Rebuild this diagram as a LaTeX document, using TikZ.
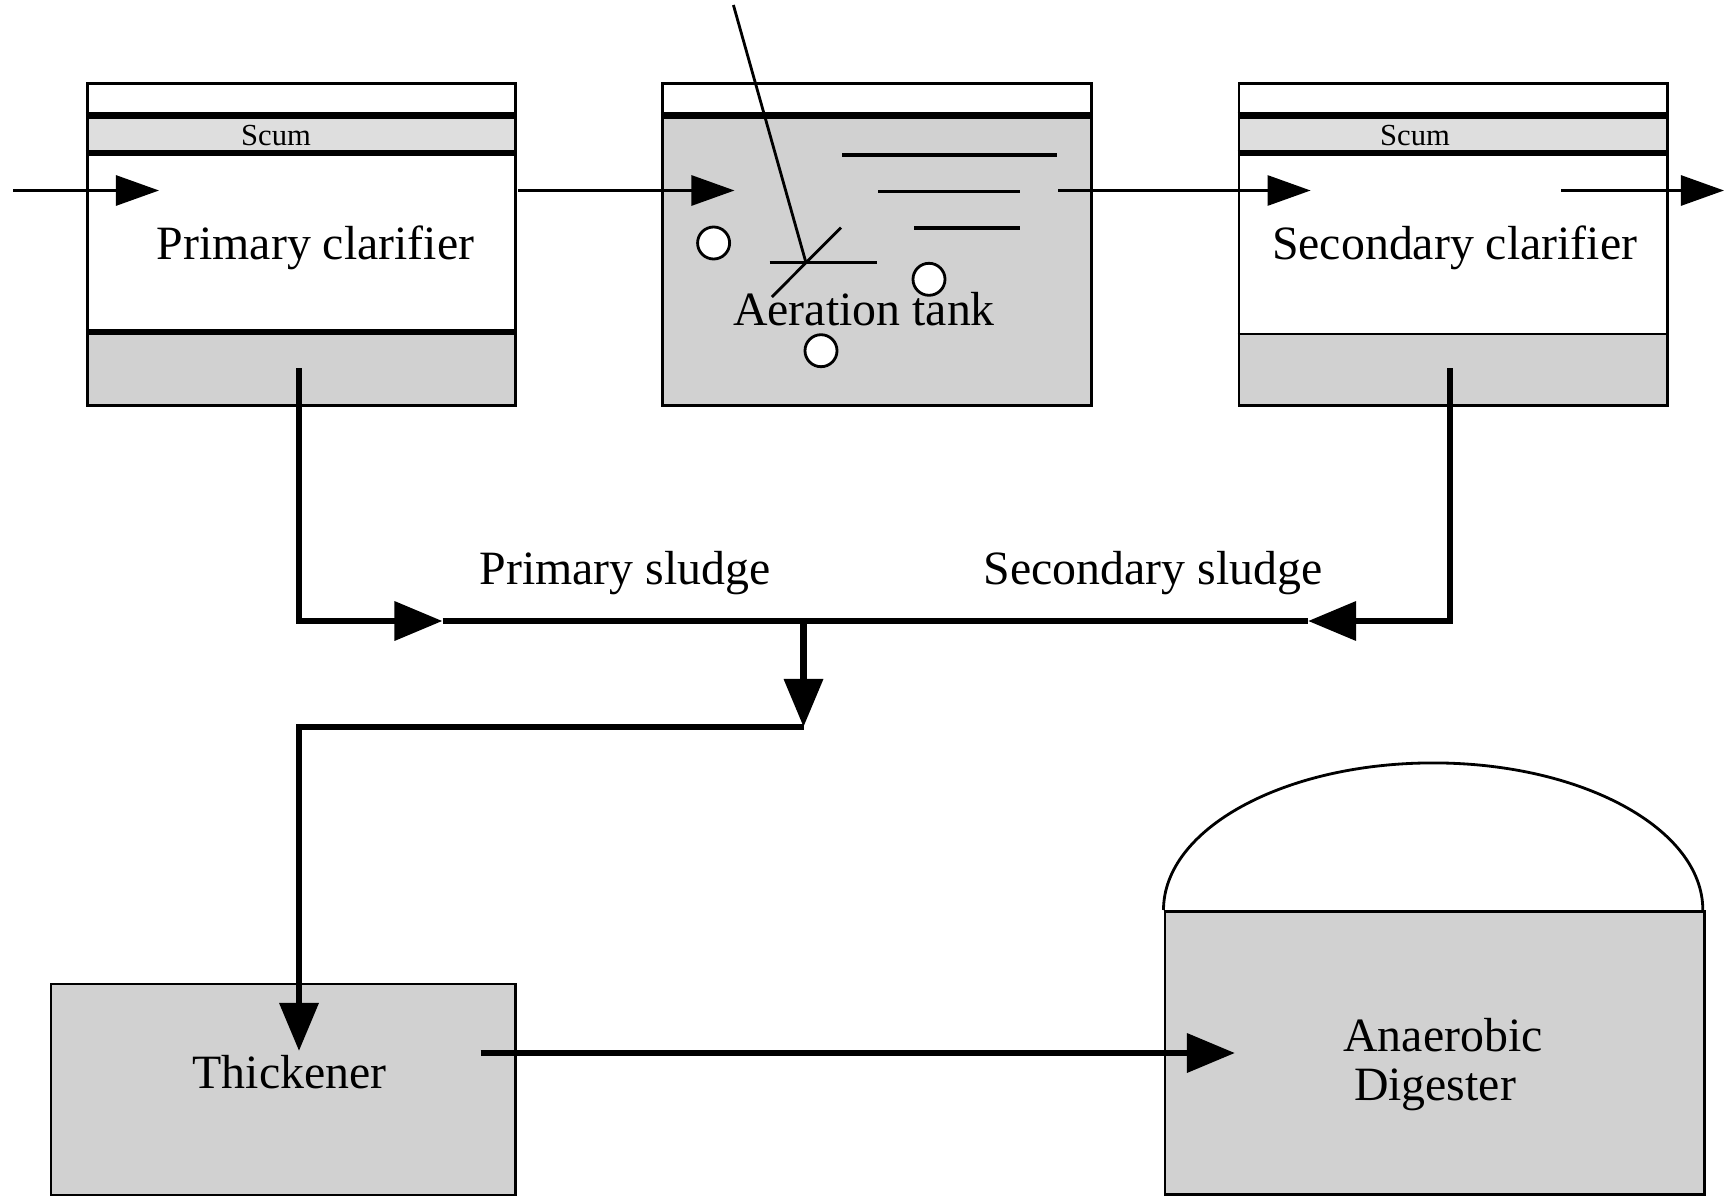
\documentclass[tikz,border=0pt]{standalone}
\usepackage{fontspec}
\setmainfont{Liberation Serif}
\usetikzlibrary{arrows.meta}
\definecolor{sludgec}{gray}{0.82}
\definecolor{scumc}{gray}{0.87}
\tikzset{
  tankbox/.style={draw=black, line width=0.8pt, inner sep=0pt, anchor=north west},
  bandline/.style={line width=1.8pt},
  thinline/.style={line width=0.8pt},
  thinflow/.style={line width=0.8pt, -{Triangle[length=0.43cm,width=0.30cm]}},
  pipeflow/.style={line width=1.9pt, -{Triangle[length=0.48cm,width=0.38cm]}},
  pipe/.style={line width=1.9pt},
  lbl/.style={font=\fontsize{13.6}{13.9}\selectfont, inner sep=0pt, anchor=base},
  scumlbl/.style={font=\fontsize{8.7}{9}\selectfont, inner sep=0pt},
  bubble/.style={draw, fill=white, line width=0.8pt},
  weir/.style={line width=1.1pt},
}
\begin{document}
\begin{tikzpicture}[x=0.01cm,y=-0.01cm]
\useasboundingbox (0,0) rectangle (1724,1197);

% ---------- Primary clarifier ----------
\fill[scumc] (85.8,115.4) rectangle (513.5,152.8);
\fill[sludgec] (85.8,332) rectangle (513.5,403.5);
\draw[bandline] (85.8,115.4) -- (513.5,115.4);
\draw[bandline] (85.8,152.8) -- (513.5,152.8);
\draw[bandline] (85.8,332) -- (513.5,332);
\node[tankbox, minimum width=4.277cm, minimum height=3.21cm] (pc) at (85.8,82.5) {};
\node[scumlbl] (pcscum) at (276,135.5) {Scum};
\node[lbl] (pclabel) at (315.5,260) {Primary clarifier};

% ---------- Aeration tank ----------
\fill[sludgec] (660.8,115.4) rectangle (1089.6,403.5);
\draw[bandline] (660.8,115.4) -- (1089.6,115.4);
\node[tankbox, minimum width=4.288cm, minimum height=3.21cm] (at) at (660.8,82.5) {};
\draw[weir] (842,155) -- (1057,155);
\draw[weir] (878,191.5) -- (1020,191.5);
\draw[weir] (914,227.6) -- (1020,227.6);
% mixer
\draw[thinline] (733.4,5) -- (806,262.8);
\draw[thinline] (769.6,262.8) -- (877.4,262.8);
\draw[thinline] (771.8,297) -- (841,227.6);
% bubbles
\draw[bubble] (713.6,243) circle[radius=0.16cm];
\draw[bubble] (929,279.3) circle[radius=0.16cm];
\draw[bubble] (821,350.7) circle[radius=0.16cm];
\node[lbl] (atlabel) at (864,325) {Aeration tank};

% ---------- Secondary clarifier ----------
\fill[scumc] (1237.5,115.4) rectangle (1665.5,152.8);
\fill[sludgec] (1237.5,334) rectangle (1665.5,403.5);
\draw[bandline] (1237.5,115.4) -- (1665.5,115.4);
\draw[bandline] (1237.5,152.8) -- (1665.5,152.8);
\draw[thinline] (1237.5,334) -- (1665.5,334);
\node[tankbox, minimum width=4.28cm, minimum height=3.21cm] (sc) at (1237.5,82.5) {};
\node[scumlbl] (scscum) at (1415,135.5) {Scum};
\node[lbl] (sclabel) at (1454.7,260) {Secondary clarifier};

% ---------- Thickener ----------
\node[tankbox, fill=sludgec, minimum width=4.645cm, minimum height=2.11cm] (th) at (49.5,982.5) {};
\node[lbl] (thlabel) at (289.5,1088) {Thickener};

% ---------- Anaerobic digester ----------
\draw[thinline] (1163.5,910) arc[start angle=180, end angle=0, x radius=2.695cm, y radius=1.47cm];
\node[tankbox, fill=sludgec, minimum width=5.39cm, minimum height=2.83cm] (dg) at (1163.5,910) {};
\node[font=\fontsize{13.6}{13.9}\selectfont, inner sep=0pt, align=center] (dglabel) at (1443,1065) {Anaerobic\\Digester\kern0.16cm};

% ---------- main flow (thin) ----------
\coordinate (in0) at (13,190.5);
\coordinate (in1) at (159,190.5);
\coordinate (pcout) at (518,190.5);
\coordinate (atin) at (734.5,190.5);
\coordinate (atout) at (1058,190.5);
\coordinate (scin) at (1310.6,190.5);
\coordinate (scout) at (1561,190.5);
\coordinate (eff) at (1724,190.5);
\draw[thinflow] (in0) -- (in1);
\draw[thinflow] (pcout) -- (atin);
\draw[thinflow] (atout) -- (scin);
\draw[thinflow] (scout) -- (eff);

% ---------- sludge lines ----------
\coordinate (pcs) at (299,368);
\coordinate (pcc) at (299,621);
\coordinate (ltip) at (442.5,621);
\coordinate (scs) at (1450,368);
\coordinate (scc) at (1450,621);
\coordinate (rtip) at (1308,621);
\coordinate (mix) at (803.5,621);
\coordinate (mixtip) at (803.5,727);
\coordinate (turn) at (299,727);
\coordinate (thin) at (299,1051);
\coordinate (thout) at (480.5,1053);
\coordinate (dgin) at (1235,1053);

\node[lbl] (pslabel) at (625,584) {Primary sludge};
\node[lbl] (sslabel) at (1153,584) {Secondary sludge};

\draw[pipeflow] (pcs) -- (pcc) -- (ltip);
\draw[pipeflow] (scs) -- (scc) -- (rtip);
\draw[pipe] (ltip) -- (rtip);
\draw[pipeflow] (mix) -- (mixtip);
\draw[pipeflow, line join=miter] (mixtip) -- (turn) -- (thin);
\draw[pipeflow] (thout) -- (dgin);
\end{tikzpicture}
\end{document}
